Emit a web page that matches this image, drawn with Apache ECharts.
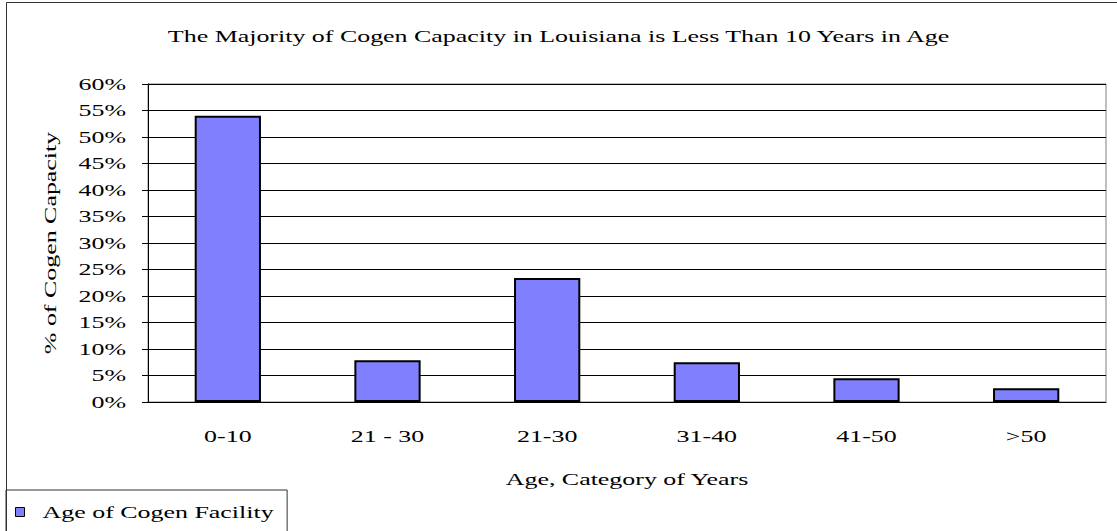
<!DOCTYPE html>
<html lang="en">
<head>
<meta charset="UTF-8">
<title>Cogen Capacity by Age</title>
<script src="https://cdn.jsdelivr.net/npm/echarts@6.0.0/dist/echarts.min.js"></script>
<style>
  body { margin: 0; background: #fff; }
  #chart { width: 1117px; height: 531px; }
  #chart text { font-family: 'Liberation Serif', 'Times New Roman', serif !important; }
</style>
</head>
<body>
<div id="chart"></div>
<script>
  const categories = ['0-10', '21 - 30', '21-30', '31-40', '41-50', '>50'];
  const shares = [54.0, 7.9, 23.4, 7.5, 4.5, 2.6];   // % of cogen capacity
  const seriesName = 'Age of Cogen Facility';
  const yMin = 0, yMax = 60, yStep = 5;

  const font = "'Liberation Serif', 'Times New Roman', serif";
  const txt = { fontFamily: font, fontSize: 16, color: '#000', fontWeight: 'normal' };

  const chart = echarts.init(document.getElementById('chart'), null, { renderer: 'svg' });

  // the original chart draws its text stretched along the baseline
  const stretch = 1.62;
  function widenText() {
    document.querySelectorAll('#chart text').forEach(t => {
      if (t.hasAttribute('textLength')) return;
      const w = t.getComputedTextLength();
      if (w > 0) {
        t.setAttribute('textLength', (w * stretch).toFixed(1));
        t.setAttribute('lengthAdjust', 'spacingAndGlyphs');
      }
    });
  }
  chart.on('finished', widenText);

  chart.setOption({
    animation: false,
    backgroundColor: '#fff',
    title: {
      text: 'The Majority of Cogen Capacity in Louisiana is Less Than 10 Years in Age',
      left: 'center',
      top: 23,
      textStyle: txt
    },
    legend: {
      data: [seriesName],
      left: 6,
      top: 490,
      icon: 'rect',
      itemWidth: 9,
      itemHeight: 9,
      padding: [14, 102, 20, 9],
      borderColor: '#333',
      borderWidth: 1,
      itemStyle: { borderColor: '#000', borderWidth: 1 },
      textStyle: Object.assign({ padding: [0, 0, 0, 13] }, txt)
    },
    grid: {
      left: 148,
      right: 11,
      top: 84,
      bottom: 129,
      show: true,
      borderColor: '#808080',
      borderWidth: 1
    },
    xAxis: {
      type: 'category',
      data: categories,
      name: 'Age, Category of Years',
      nameLocation: 'middle',
      nameGap: 69,
      nameTextStyle: txt,
      axisLine: { lineStyle: { color: '#000' } },
      axisTick: { length: 6, lineStyle: { color: '#000' } },
      axisLabel: Object.assign({ margin: 26, interval: 0 }, txt)
    },
    yAxis: {
      type: 'value',
      min: yMin,
      max: yMax,
      interval: yStep,
      name: '% of Cogen Capacity',
      nameLocation: 'middle',
      nameRotate: 90,
      nameGap: 90,
      nameTextStyle: txt,
      axisLine: { show: true, lineStyle: { color: '#000' } },
      axisTick: { show: true, length: 6, lineStyle: { color: '#000' } },
      axisLabel: Object.assign({ margin: 22, formatter: v => v + '%' }, txt),
      splitLine: { lineStyle: { color: '#000' } }
    },
    series: [{
      name: seriesName,
      type: 'bar',
      data: shares,
      barWidth: '41.5%',
      itemStyle: { color: '#8080FF', borderColor: '#000', borderWidth: 2 }
    }],
    graphic: [{
      type: 'rect',
      silent: true,
      shape: { x: 6.5, y: 2.5, width: 1200, height: 600 },
      style: { fill: 'none', stroke: '#333', lineWidth: 1 }
    }]
  });
</script>
</body>
</html>
